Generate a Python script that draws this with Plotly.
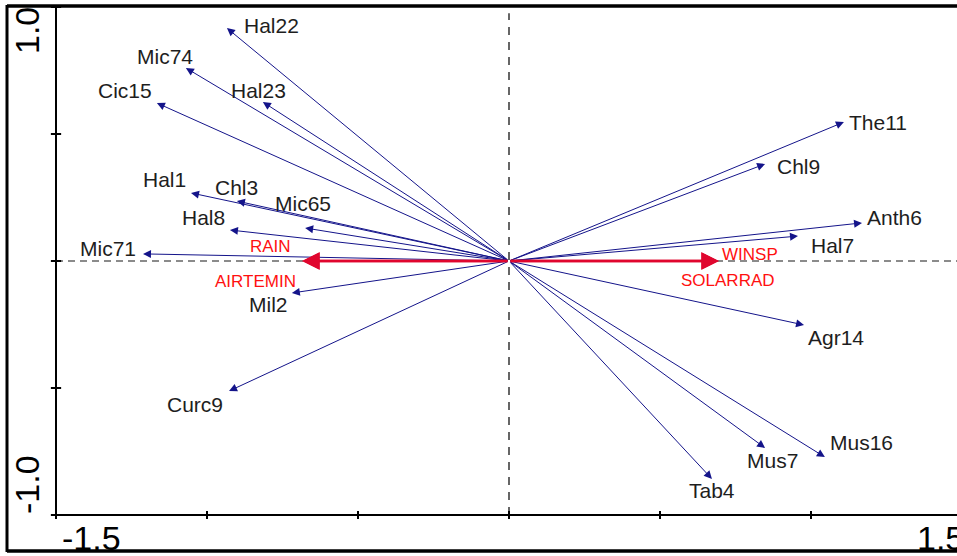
import plotly.graph_objects as go

# ---- data ----
species = ["Hal22", "Mic74", "Hal23", "Cic15", "Hal1", "Chl3", "Mic65", "Hal8",
           "Mic71", "Mil2", "Curc9", "The11", "Chl9", "Anth6", "Hal7", "Agr14",
           "Mus16", "Mus7", "Tab4"]
sp_x = [-0.934, -1.070, -0.815, -1.166, -1.053, -0.901, -0.675, -0.924,
        -1.212, -0.719, -0.927, 1.109, 0.848, 1.169, 0.957, 0.977,
        1.046, 0.848, 0.672]
sp_y = [0.917, 0.760, 0.626, 0.622, 0.268, 0.236, 0.130, 0.122,
        0.028, -0.126, -0.512, 0.547, 0.382, 0.150, 0.098, -0.252,
        -0.772, -0.736, -0.858]
# label anchor positions (data units)
lab_x = [-0.788, -1.139, -0.828, -1.272, -1.142, -0.901, -0.682, -1.013,
         -1.328, -0.798, -1.040, 1.222, 0.957, 1.275, 1.070, 1.083,
         1.166, 0.874, 0.672]
lab_y = [0.929, 0.807, 0.673, 0.673, 0.319, 0.291, 0.228, 0.173,
         0.051, -0.173, -0.563, 0.547, 0.374, 0.173, 0.063, -0.303,
         -0.713, -0.787, -0.902]

env = ["RAIN", "AIRTEMIN", "WINSP", "SOLARRAD"]
env_x = [-0.685, -0.685, 0.695, 0.695]
env_y = [0.0, 0.0, 0.0, 0.0]
env_lab_x = [-0.791, -0.841, 0.798, 0.725]
env_lab_y = [0.059, -0.079, 0.024, -0.075]

x_ticks = [-1.5, -1.0, -0.5, 0.0, 0.5, 1.0, 1.5]
y_ticks = [-1.0, -0.5, 0.0, 0.5, 1.0]
x_ticklabels = {-1.5: "-1.5", 1.5: "1.5"}
y_ticklabels = {1.0: "1.0", -1.0: "-1.0"}

X_RANGE = [-1.68543, 1.48344]
Y_RANGE = [-1.16142, 1.02756]
W, H = 957, 556

NAVY = "#14148a"
RED_LINE = "#e0062e"
RED_TEXT = "#ff1010"
FONT = "Liberation Sans, Arial, Helvetica, sans-serif"


def to_paper_x(v):
    return (v - X_RANGE[0]) / (X_RANGE[1] - X_RANGE[0])


fig = go.Figure()
fig.add_trace(go.Scatter(x=[0], y=[0], mode="markers", marker=dict(size=1, color="rgba(0,0,0,0)"),
                         hoverinfo="skip", showlegend=False))

shapes = []
# outer frame (paper)
shapes.append(dict(type="line", xref="paper", yref="paper", x0=7/W, x1=1.0, y0=1-6/H, y1=1-6/H,
                   line=dict(color="black", width=3.5)))
shapes.append(dict(type="line", xref="paper", yref="paper", x0=7/W, x1=7/W, y0=1-5/H, y1=1-552/H,
                   line=dict(color="black", width=3)))
shapes.append(dict(type="line", xref="paper", yref="paper", x0=7/W, x1=1.0, y0=1-551/H, y1=1-551/H,
                   line=dict(color="black", width=3.5)))

# zero lines
shapes.append(dict(type="line", xref="x", yref="y", x0=-1.5, x1=X_RANGE[1], y0=0, y1=0,
                   line=dict(color="#666666", width=1.5, dash="7px,5px")))
shapes.append(dict(type="line", xref="x", yref="y", x0=0, x1=0, y0=-1.0, y1=0.975,
                   line=dict(color="black", width=1.2, dash="8px,7px")))

# axis lines
shapes.append(dict(type="line", xref="x", yref="y", x0=-1.5, x1=-1.5, y0=-1.0, y1=Y_RANGE[1] - 0.02,
                   line=dict(color="black", width=2)))
shapes.append(dict(type="line", xref="x", yref="y", x0=-1.5, x1=X_RANGE[1], y0=-1.0, y1=-1.0,
                   line=dict(color="black", width=2)))
# ticks
for t in x_ticks:
    shapes.append(dict(type="line", xref="x", yref="y", x0=t, x1=t, y0=-1.0 - 0.016, y1=-1.0 + 0.016,
                       line=dict(color="black", width=2)))
for t in y_ticks:
    shapes.append(dict(type="line", xref="x", yref="y", x0=-1.5 - 0.017, x1=-1.5 + 0.017, y0=t, y1=t,
                       line=dict(color="black", width=2)))

annotations = []
# species arrows
for name, x, y in zip(species, sp_x, sp_y):
    annotations.append(dict(x=x, y=y, ax=0, ay=0, xref="x", yref="y", axref="x", ayref="y",
                            text="", showarrow=True, arrowhead=2, arrowsize=1.6, arrowwidth=1,
                            arrowcolor=NAVY, standoff=0, startstandoff=0))
for name, x, y in zip(species, lab_x, lab_y):
    annotations.append(dict(x=x, y=y, xref="x", yref="y", text=name, showarrow=False,
                            font=dict(family=FONT, size=21, color="#1e1e1e"),
                            xanchor="center", yanchor="middle"))
# environmental arrows
for name, x, y in zip(env, env_x, env_y):
    annotations.append(dict(x=x, y=y, ax=0, ay=0, xref="x", yref="y", axref="x", ayref="y",
                            text="", showarrow=True, arrowhead=2, arrowsize=1.4, arrowwidth=2.5,
                            arrowcolor=RED_LINE, standoff=0, startstandoff=0))
for name, x, y in zip(env, env_lab_x, env_lab_y):
    annotations.append(dict(x=x, y=y, xref="x", yref="y", text=name, showarrow=False,
                            font=dict(family=FONT, size=17, color=RED_TEXT),
                            xanchor="center", yanchor="middle"))

# x tick labels (paper refs so the end label is kept even past the visible range)
for t, s in x_ticklabels.items():
    annotations.append(dict(x=to_paper_x(t), y=1 - 538/H, xref="paper", yref="paper", text=s,
                            showarrow=False, xanchor="left",
                            xshift=4 if t < 0 else -47, yanchor="middle",
                            font=dict(family=FONT, size=34, color="black")))
for t, s in y_ticklabels.items():
    annotations.append(dict(x=-1.5, y=t, xref="x", yref="y", text=s, showarrow=False, textangle=-90,
                            xanchor="right", yanchor="middle", xshift=-8,
                            yshift=-24 if t > 0 else 30,
                            font=dict(family=FONT, size=34, color="black")))

fig.update_layout(
    width=W, height=H,
    margin=dict(l=0, r=0, t=0, b=0, pad=0),
    paper_bgcolor="white", plot_bgcolor="white",
    xaxis=dict(range=X_RANGE, showgrid=False, zeroline=False, showline=False,
               showticklabels=False, ticks="", fixedrange=True),
    yaxis=dict(range=Y_RANGE, showgrid=False, zeroline=False, showline=False,
               showticklabels=False, ticks="", fixedrange=True),
    shapes=shapes, annotations=annotations, showlegend=False,
)

fig.write_html("out.html")
